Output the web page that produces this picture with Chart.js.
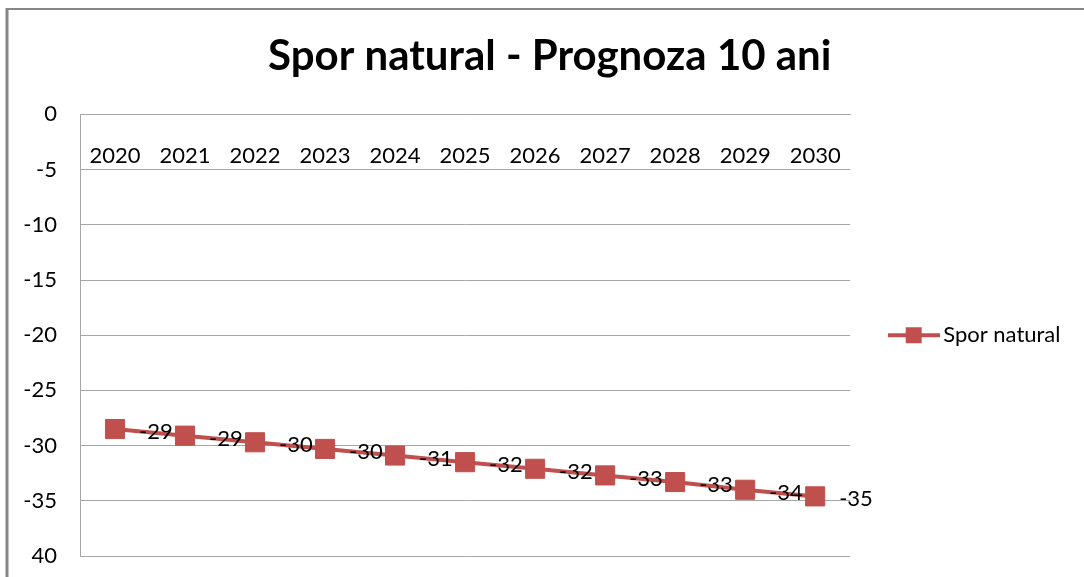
<!DOCTYPE html>
<html><head><meta charset="utf-8">
<script src="https://cdn.jsdelivr.net/npm/chart.js@4.4.1/dist/chart.umd.min.js"></script>
<style>html,body{margin:0;padding:0;background:#fff;} #wrap{width:1084px;height:577px;position:relative;}</style>
</head><body><div id="wrap"><canvas id="c"></canvas></div>
<script>
const categories = ['2020','2021','2022','2023','2024','2025','2026','2027','2028','2029','2030'];
const sporNatural = [-28.5, -29.1, -29.7, -30.3, -30.9, -31.5, -32.1, -32.7, -33.3, -34.0, -34.6];
const seriesName = 'Spor natural';
const chartTitle = 'Spor natural - Prognoza 10 ani';
const yTickValues = [-40, -35, -30, -25, -20, -15, -10, -5, 0];
const yTickLabels = ['40', '-35', '-30', '-25', '-20', '-15', '-10', '-5', '0'];

const RED = '#C0504D';
const GRID = '#A6A6A6';
const FONT = 'Lato';
const FS = 22;

function fmtLabel(v) { const r = Math.round(Math.abs(v)); return (v < 0 ? '-' : '') + r; }

const legendIcon = document.createElement('canvas');
legendIcon.width = 52; legendIcon.height = 20;
(function(){ const g = legendIcon.getContext('2d');
  g.strokeStyle = RED; g.lineWidth = 4; g.beginPath(); g.moveTo(0,10); g.lineTo(52,10); g.stroke();
  g.fillStyle = RED; g.fillRect(18,2,16,16); })();

const framePlugin = { id: 'frame',
  afterLayout(chart) { const t = chart.titleBlock; if (t) { t.left += 11; t.right += 11; } },
  beforeDraw(chart) { const ctx = chart.ctx; ctx.save();
    ctx.strokeStyle = '#858585';
    ctx.lineWidth = 2; ctx.beginPath(); ctx.moveTo(6, 9); ctx.lineTo(chart.width, 9); ctx.stroke();
    ctx.lineWidth = 3; ctx.beginPath(); ctx.moveTo(7, 8); ctx.lineTo(7, chart.height); ctx.stroke();
    ctx.restore(); } };

const labelPlugin = { id: 'dataLabels', afterDatasetsDraw(chart) {
  const meta = chart.getDatasetMeta(0); const ctx = chart.ctx; ctx.save();
  ctx.font = FS + 'px ' + FONT; ctx.fillStyle = '#000'; ctx.textAlign = 'left'; ctx.textBaseline = 'middle';
  meta.data.forEach((pt, i) => ctx.fillText(fmtLabel(sporNatural[i]), pt.x + 24, pt.y + 3));
  ctx.restore(); } };

new Chart(document.getElementById('c'), {
  type: 'line',
  data: { labels: categories, datasets: [{ label: seriesName, data: sporNatural,
    borderColor: RED, backgroundColor: RED, borderWidth: 4, tension: 0,
    pointStyle: 'rect', pointRadius: 13.5, pointBorderWidth: 1, pointBorderColor: RED, pointBackgroundColor: RED }] },
  options: {
    responsive: true, maintainAspectRatio: false, animation: false, events: [],
    layout: { padding: { left: 7, right: 13.5, top: 10, bottom: 21 } },
    plugins: {
      title: { display: true, text: chartTitle, color: '#000', font: { family: FONT, size: 42, weight: 'bold' }, padding: { top: 21, bottom: 33 } },
      legend: { position: 'right', fullSize: false,
        labels: { usePointStyle: true, pointStyleWidth: 37, padding: 45, color: '#000', font: { family: FONT, size: FS },
          generateLabels(chart) { const items = Chart.defaults.plugins.legend.labels.generateLabels(chart);
            items.forEach(it => { it.pointStyle = legendIcon; }); return items; } } },
      tooltip: { enabled: false }
    },
    scales: {
      x: { type: 'category', position: { y: 0 }, offset: true,
        grid: { display: false }, border: { color: GRID, width: 1 },
        ticks: { color: '#000', font: { family: FONT, size: FS }, padding: 20, maxRotation: 0, autoSkip: false } },
      y: { type: 'linear', min: -40, max: 0,
        afterFit(scale) { scale.width = 73; },
        grid: { color: GRID, lineWidth: 1, drawTicks: true, tickLength: 23, tickColor: 'rgba(0,0,0,0)' },
        border: { color: GRID, width: 1 },
        ticks: { stepSize: 5, padding: 0, color: '#000', font: { family: FONT, size: FS },
          callback: (v) => { const i = yTickValues.indexOf(v); return i >= 0 ? yTickLabels[i] : ''; } } }
    }
  },
  plugins: [framePlugin, labelPlugin]
});
</script></body></html>
